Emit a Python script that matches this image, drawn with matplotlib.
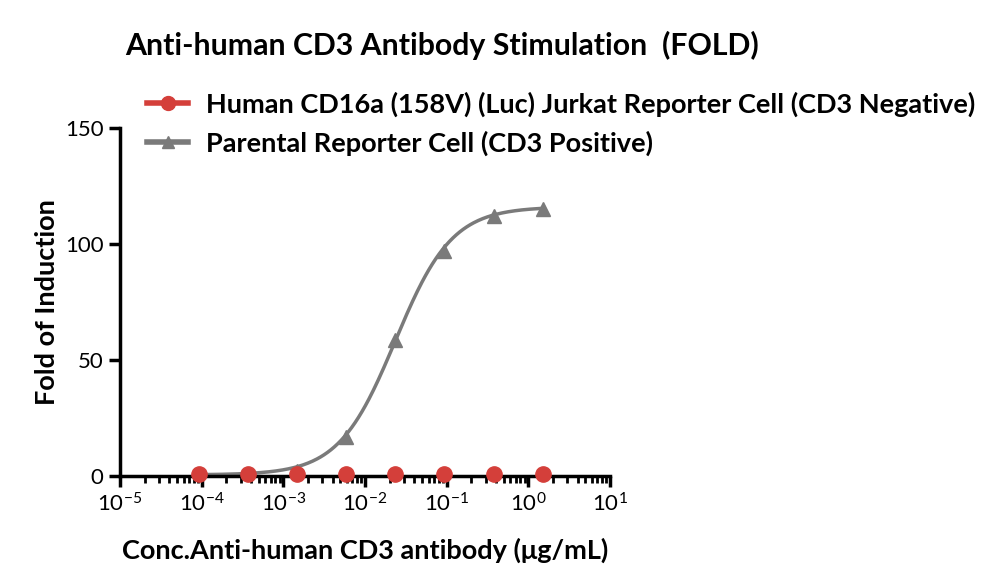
import numpy as np
import matplotlib
matplotlib.use("Agg")
import matplotlib.pyplot as plt
from matplotlib.ticker import LogLocator, NullFormatter, FixedLocator
from matplotlib.lines import Line2D

plt.rcParams['font.family'] = ['Lato', 'DejaVu Sans']

# Data
conc = [9.16e-5, 3.66e-4, 1.46e-3, 5.86e-3, 2.34e-2, 9.375e-2, 0.375, 1.5]
neg_values = [0.9, 0.8, 1.0, 0.9, 0.9, 0.9, 0.9, 0.9]
pos_values = [0.5, 0.6, 2.0, 16.7, 58.8, 97.0, 112.0, 115.0]
# 4-parameter logistic fit parameters for the positive series
fit_bottom = 0.5
fit_top = 116.0
fit_ec50 = 0.0235
fit_hill = 1.25

neg_label = "Human CD16a (158V) (Luc) Jurkat Reporter Cell (CD3 Negative)"
pos_label = "Parental Reporter Cell (CD3 Positive)"
title = "Anti-human CD3 Antibody Stimulation  (FOLD)"
xlabel = "Conc.Anti-human CD3 antibody (\u03bcg/mL)"
ylabel = "Fold of Induction"
xtick_exponents = [-5, -4, -3, -2, -1, 0, 1]
yticks = [0, 50, 100, 150]

red = "#d43f3a"
grey = "#7a7a7a"

fig = plt.figure(figsize=(10, 5.87), dpi=100)
ax = fig.add_axes([0.12, 0.189, 0.49, 0.593])

xs = np.logspace(np.log10(conc[0]), np.log10(conc[-1]), 300)
ys = fit_bottom + (fit_top - fit_bottom) / (1 + (fit_ec50 / xs) ** fit_hill)
ax.plot(xs, ys, color=grey, lw=2.5, zorder=2)
ax.plot(conc, pos_values, linestyle='none', marker='^', ms=10, color=grey, zorder=3)
ax.plot(conc, neg_values, linestyle='none', marker='o', ms=11, color=red, zorder=4, clip_on=False)

h1 = Line2D([], [], color=red, lw=4, marker='o', ms=10)
h2 = Line2D([], [], color=grey, lw=4, marker='^', ms=9)
fig.legend([h1, h2], [neg_label, pos_label], loc='upper left',
           bbox_to_anchor=(0.123, 0.885), frameon=False,
           prop={'weight': 'bold', 'size': 19.5}, handlelength=1.5,
           handletextpad=0.65, labelspacing=0.5)

ax.set_xscale('log')
ax.set_xlim(1e-5, 10)
ax.set_ylim(0, 150)
ax.set_yticks(yticks)
ax.xaxis.set_major_locator(FixedLocator([10.0 ** k for k in xtick_exponents]))
ax.xaxis.set_minor_locator(LogLocator(base=10, subs=np.arange(2, 10), numticks=20))
ax.xaxis.set_minor_formatter(NullFormatter())
ax.set_xticklabels([r'$\mathregular{10^{%d}}$' % k for k in xtick_exponents])

for s in ['top', 'right']:
    ax.spines[s].set_visible(False)
for s in ['left', 'bottom']:
    ax.spines[s].set_linewidth(2.5)
    ax.spines[s].set_color('black')
ax.tick_params(axis='both', which='major', width=2.5, length=8, labelsize=16, direction='out', pad=4)
ax.tick_params(axis='x', which='minor', width=2, length=5, direction='out')

ax.set_xlabel(xlabel, fontsize=19.5, fontweight='bold', labelpad=16)
ax.set_ylabel(ylabel, fontsize=19.5, fontweight='bold', labelpad=4)
fig.text(0.125, 0.922, title, fontsize=21.8, fontweight='bold', ha='left', va='center')

fig.savefig("out.png", dpi=100)
